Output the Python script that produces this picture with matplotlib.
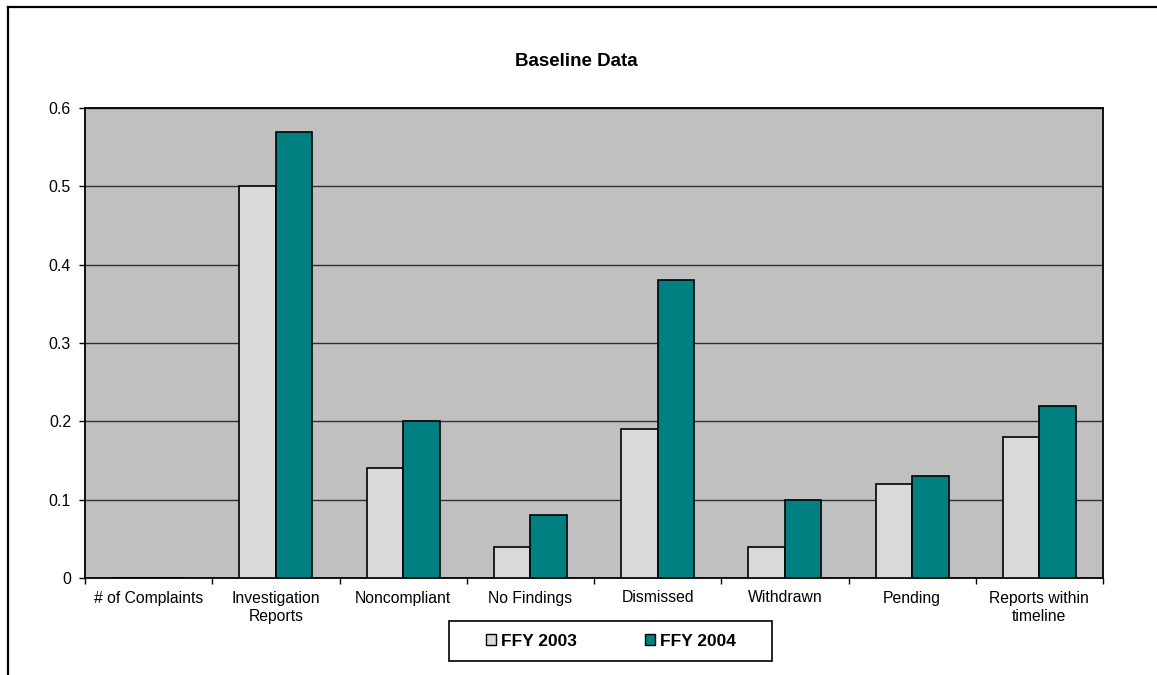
import matplotlib
matplotlib.use("Agg")
import matplotlib.pyplot as plt
from matplotlib.lines import Line2D
from matplotlib.patches import Rectangle, Patch
import numpy as np

plt.rcParams['font.family'] = ['Liberation Sans', 'DejaVu Sans']

categories = ["# of Complaints", "Investigation\nReports", "Noncompliant", "No Findings",
              "Dismissed", "Withdrawn", "Pending", "Reports within\ntimeline"]
ffy2003 = [0, 0.50, 0.14, 0.04, 0.19, 0.04, 0.12, 0.18]
ffy2004 = [0, 0.57, 0.20, 0.08, 0.38, 0.10, 0.13, 0.22]
series_names = ["FFY 2003", "FFY 2004"]
yticks = [0, 0.1, 0.2, 0.3, 0.4, 0.5, 0.6]
ytick_labels = ["0", "0.1", "0.2", "0.3", "0.4", "0.5", "0.6"]

W, H = 1157, 675
fig = plt.figure(figsize=(W / 100, H / 100), dpi=100)
fig.patch.set_facecolor("white")

ax = fig.add_axes([85 / W, 1 - 578 / H, (1103 - 85) / W, (578 - 108) / H])
ax.set_facecolor("#C0C0C0")

x = np.arange(len(categories))
bw = 0.287
c1, c2 = "#D9D9D9", "#008080"
ax.bar(x - bw / 2, ffy2003, bw, color=c1, edgecolor="black", linewidth=1.2, zorder=3)
ax.bar(x + bw / 2, ffy2004, bw, color=c2, edgecolor="black", linewidth=1.2, zorder=3)

ax.set_xlim(-0.5, len(categories) - 0.5)
ax.set_ylim(0, 0.6)
ax.set_yticks(yticks)
ax.set_yticklabels(ytick_labels, fontsize=11.5)
ax.yaxis.grid(True, color="#303030", linewidth=1.0, zorder=1)
ax.set_axisbelow(True)

ax.set_xticks(x)
ax.set_xticklabels(categories, fontsize=11.3, linespacing=1.3)
ax.set_xticks(np.arange(-0.5, len(categories) + 0.5, 1), minor=True)
ax.tick_params(axis="x", which="major", length=0, pad=9)
ax.tick_params(axis="x", which="minor", length=4, width=1, direction="out", color="black")
ax.tick_params(axis="y", length=4, width=1, direction="out", pad=6)

for s in ax.spines.values():
    s.set_color("black")
    s.set_linewidth(1.3)

fig.text(576 / W, 1 - 61 / H, "Baseline Data", ha="center", va="center",
         fontsize=13.5, fontweight="bold")

# outer chart border (partially visible)
fig.add_artist(Line2D([8 / W, 1.0], [1 - 7 / H, 1 - 7 / H], color="black", linewidth=1.6))
fig.add_artist(Line2D([8 / W, 8 / W], [0.0, 1 - 7 / H], color="black", linewidth=1.6))

# legend
fig.add_artist(Rectangle((449 / W, 1 - 661 / H), (772 - 449) / W, 40 / H,
                         transform=fig.transFigure, facecolor="white",
                         edgecolor="black", linewidth=1.2))
handles = [Patch(facecolor=c1, edgecolor="black", linewidth=1.0),
           Patch(facecolor=c2, edgecolor="black", linewidth=1.0)]
fig.legend(handles, series_names, loc="center", bbox_to_anchor=(611 / W, 1 - 641 / H),
           ncol=2, frameon=False, prop={"weight": "bold", "size": 12.5},
           handlelength=0.6, handleheight=0.6, handletextpad=0.3, columnspacing=3.9)

fig.savefig("out.png", dpi=100)
